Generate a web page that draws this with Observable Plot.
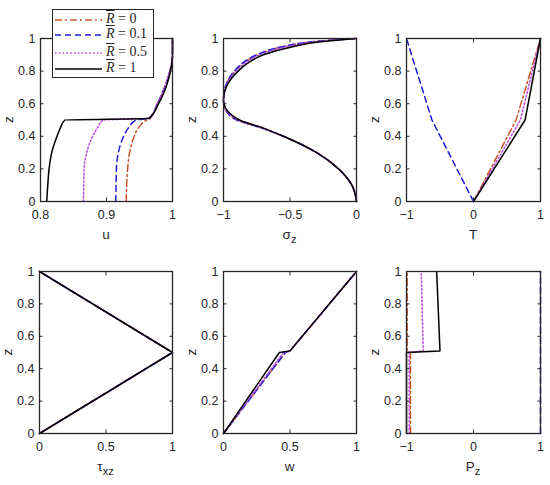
<!DOCTYPE html>
<html><head><meta charset="utf-8">
<script src="https://cdn.jsdelivr.net/npm/d3@7"></script>
<script src="https://cdn.jsdelivr.net/npm/@observablehq/plot@0.6"></script>
<style>
body{margin:0;background:#fff;}
#wrap{position:relative;width:550px;height:485px;overflow:hidden;font-family:"Liberation Sans",Arial,sans-serif;background:#fff;}
.panel{position:absolute;}
#legend{position:absolute;left:52px;top:9px;width:102px;height:69px;border:1.3px solid #262626;background:#fff;box-sizing:border-box;}
.lrow{position:absolute;left:0;height:16px;width:100px;}
.lrow svg{position:absolute;left:2px;top:0;}
.ltxt{position:absolute;left:53px;top:-1px;font-family:"Liberation Serif","DejaVu Serif",serif;font-size:14px;color:#262626;white-space:nowrap;line-height:16px;}
.ltxt i{text-decoration:overline;}
</style></head><body><div id="wrap"></div>
<script>
// ---- series ----
const legendValues = ["0", "0.1", "0.5", "1"];
const colors = ["#c8552c", "#1c1cd6", "#b84ae0", "#000000"];
const dashes = ["7,3,2,3", "6,4", "1.6,2.2", null];

// ---- panel u ----
const zU   = [0, 0.1, 0.2, 0.3, 0.4, 0.45, 0.5, 0.51, 0.6, 0.7, 0.8, 0.9, 1];
const uR0  = [0.930, 0.9305, 0.932, 0.935, 0.942, 0.948, 0.961, 0.966, 0.977, 0.988, 0.996, 1, 1];
const uR01 = [0.914, 0.9145, 0.915, 0.918, 0.926, 0.933, 0.945, 0.965, 0.977, 0.988, 0.996, 1, 1];
const uR05 = [0.865, 0.8655, 0.866, 0.870, 0.879, 0.886, 0.895, 0.964, 0.977, 0.988, 0.996, 1, 1];
const uR1  = [0.8095, 0.811, 0.813, 0.817, 0.825, 0.830, 0.837, 0.964, 0.979, 0.990, 0.997, 1, 1];

// ---- panel sigma_z ----
const zS   = [0, 0.1, 0.2, 0.3, 0.4, 0.45, 0.5, 0.55, 0.6, 0.62, 0.65, 0.7, 0.75, 0.8, 0.85, 0.9, 0.95, 0.98, 1];
const sR0  = [0, -0.035, -0.135, -0.30, -0.55, -0.71, -0.90, -0.975, -0.998, -1, -0.998, -0.988, -0.96, -0.915, -0.85, -0.745, -0.55, -0.33, 0];
const sR01 = [0, -0.035, -0.135, -0.30, -0.55, -0.71, -0.90, -0.975, -0.998, -1, -0.998, -0.988, -0.962, -0.918, -0.855, -0.75, -0.555, -0.335, 0];
const sR05 = [0, -0.035, -0.135, -0.30, -0.55, -0.705, -0.89, -0.97, -0.998, -1, -0.998, -0.985, -0.955, -0.905, -0.835, -0.725, -0.52, -0.30, 0];
const sR1  = [0, -0.035, -0.135, -0.30, -0.55, -0.70, -0.88, -0.965, -0.997, -1, -0.997, -0.98, -0.945, -0.89, -0.815, -0.70, -0.48, -0.27, 0];

// ---- panel T ----
const zT   = [0, 0.5, 1];
const tR0  = [0, 0.635, 1];
const tR01 = [0, -0.62, -1];
const tR05 = [0, 0.70, 1];
const tR1  = [0, 0.77, 1];

// ---- panel tau_xz ----
const zTau   = [0, 0.5, 1];
const tauR0  = [0, 1, 0];
const tauR01 = [0, 1, 0];
const tauR05 = [0, 1, 0];
const tauR1  = [0, 1, 0];

// ---- panel w ----
const zW   = [0, 0.5, 0.51, 1];
const wR0  = [0, 0.465, 0.5, 1];
const wR01 = [0, 0.465, 0.5, 1];
const wR05 = [0, 0.45, 0.5, 1];
const wR1  = [0, 0.42, 0.5, 1];

// ---- panel P_z ----
const zP   = [0, 0.5, 0.51, 1];
const pR0  = [-0.94, -0.94, -0.99, -0.99];
const pR01 = [1, 1, 1, 1];
const pR05 = [-0.96, -0.96, -0.75, -0.78];
const pR1  = [-1, -1, -0.50, -0.55];

// ---- ticks ----
const zTicks = [0, 0.2, 0.4, 0.6, 0.8, 1];
const uTicks = [0.8, 0.9, 1];
const sTicks = [-1, -0.5, 0];
const tTicks = [-1, 0, 1];
const tauTicks = [0, 0.5, 1];
const wTicks = [0, 0.5, 1];
const pTicks = [-1, 0, 1];

const panels = [
  {x0: 40, x1: 172, y0: 38, y1: 201, dom: [0.8, 1], ticks: uTicks, z: zU, vals: [uR0, uR01, uR05, uR1], label: ["u", null], curve: "monotone-y"},
  {x0: 223, x1: 356, y0: 38, y1: 201, dom: [-1, 0], ticks: sTicks, z: zS, vals: [sR0, sR01, sR05, sR1], label: ["σ", "z"], curve: "monotone-y"},
  {x0: 406, x1: 540, y0: 38, y1: 201, dom: [-1, 1], ticks: tTicks, z: zT, vals: [tR0, tR01, tR05, tR1], label: ["T", null], curve: "linear"},
  {x0: 39, x1: 172, y0: 271, y1: 433, dom: [0, 1], ticks: tauTicks, z: zTau, vals: [tauR0, tauR01, tauR05, tauR1], label: ["τ", "xz"], curve: "linear"},
  {x0: 223, x1: 356, y0: 271, y1: 433, dom: [0, 1], ticks: wTicks, z: zW, vals: [wR0, wR01, wR05, wR1], label: ["w", null], curve: "linear"},
  {x0: 406, x1: 540, y0: 271, y1: 433, dom: [-1, 1], ticks: pTicks, z: zP, vals: [pR0, pR01, pR05, pR1], label: ["P", "z"], curve: "linear"}
];

const fmt = d => d === 0 ? "0" : String(d).replace("-", "\u2212");
const ink = "#262626";
const wrap = document.getElementById("wrap");
const mL = 42, mR = 10, mT = 10, mB = 45;

panels.forEach(p => {
  const W = p.x1 - p.x0, H = p.y1 - p.y0;
  const marks = [];
  p.vals.forEach((vals, i) => {
    const rows = vals.map((v, j) => ({x: v, z: p.z[j]}));
    marks.push(Plot.line(rows, {x: "x", y: "z", stroke: colors[i], strokeWidth: 1.5,
      strokeDasharray: dashes[i] || undefined, curve: p.curve}));
  });
  marks.push(Plot.frame({stroke: ink, strokeWidth: 1.3}));
  marks.push(Plot.axisX({anchor: "bottom", ticks: p.ticks, tickFormat: fmt, tickSize: -3.5, tickPadding: 12, color: ink, fontSize: 12.5, label: null}));
  marks.push(Plot.axisX({anchor: "top", ticks: p.ticks, tickFormat: () => "", tickSize: -3.5, color: ink, label: null}));
  marks.push(Plot.axisY({anchor: "left", ticks: zTicks, tickFormat: fmt, tickSize: -3.5, tickPadding: 8.5, color: ink, fontSize: 12.5, label: null}));
  marks.push(Plot.axisY({anchor: "right", ticks: zTicks, tickFormat: () => "", tickSize: -3.5, color: ink, label: null}));
  const svg = Plot.plot({
    width: mL + W + mR, height: mT + H + mB,
    marginLeft: mL, marginRight: mR, marginTop: mT, marginBottom: mB,
    x: {domain: p.dom, axis: null},
    y: {domain: [0, 1], axis: null},
    style: {fontSize: "12.5px", fontFamily: "'Liberation Sans', Arial, sans-serif", background: "transparent", overflow: "visible"},
    marks
  });
  svg.classList.add("panel");
  svg.style.left = (p.x0 - mL) + "px";
  svg.style.top = (p.y0 - mT) + "px";
  const s = d3.select(svg);
  // x label
  const t = s.append("text")
    .attr("x", mL + W / 2).attr("y", mT + H + 38)
    .attr("text-anchor", "middle").attr("fill", ink)
    .style("font-size", "13.5px");
  t.append("tspan").text(p.label[0]);
  if (p.label[1]) t.append("tspan").attr("dy", 4).style("font-size", "11px").text(p.label[1]);
  // y label
  s.append("text")
    .attr("transform", `translate(${mL - 31},${mT + H / 2}) rotate(-90)`)
    .attr("text-anchor", "middle").attr("dominant-baseline", "middle")
    .attr("fill", ink).style("font-size", "13.5px").text("z");
  wrap.appendChild(svg);
});

// legend
const leg = document.createElement("div");
leg.id = "legend";
const rowTops = [19, 34.4, 51.8, 68.3];
legendValues.forEach((v, i) => {
  const r = document.createElement("div");
  r.className = "lrow";
  r.style.top = (rowTops[i] - 9 - 8) + "px";
  const ls = d3.create("svg").attr("width", 48).attr("height", 16);
  ls.append("line").attr("x1", 0).attr("x2", 47).attr("y1", 8).attr("y2", 8)
    .attr("stroke", colors[i]).attr("stroke-width", 1.5)
    .attr("stroke-dasharray", dashes[i]);
  r.appendChild(ls.node());
  const tx = document.createElement("span");
  tx.className = "ltxt";
  tx.innerHTML = "<i>R</i> = " + v;
  r.appendChild(tx);
  leg.appendChild(r);
});
wrap.appendChild(leg);
</script></body></html>
